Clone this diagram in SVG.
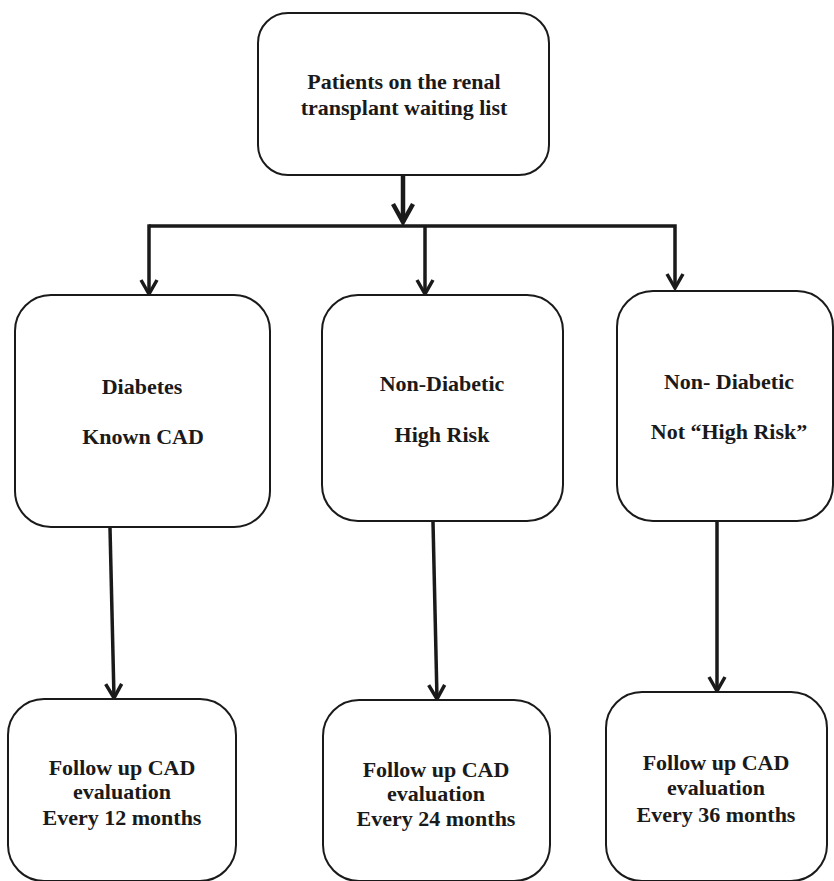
<svg xmlns="http://www.w3.org/2000/svg" width="834" height="881" viewBox="0 0 834 881">
<style>
.box{fill:#fff;stroke:#1a1a1a;stroke-width:2}
.t{font-family:"Liberation Serif","Times New Roman",serif;font-weight:bold;font-size:22px;fill:#1a1a1a;text-anchor:middle}
.c{fill:none;stroke:#1a1a1a;stroke-width:3.5;stroke-linecap:butt}
</style>
<defs>
<marker id="ah" markerUnits="userSpaceOnUse" viewBox="-20 -12 24 24" refX="0" refY="0" markerWidth="24" markerHeight="24" orient="auto">
<path d="M-14,-8 L0,0 L-14,8" fill="none" stroke="#1a1a1a" stroke-width="3.5" stroke-linejoin="miter"/>
</marker>
<marker id="ahb" markerUnits="userSpaceOnUse" viewBox="-24 -14 28 28" refX="0" refY="0" markerWidth="28" markerHeight="28" orient="auto">
<path d="M-18,-10 L0,0 L-18,10" fill="none" stroke="#1a1a1a" stroke-width="4.5" stroke-linejoin="miter"/>
</marker>
</defs>
<g id="connectors">
<line class="c" x1="403" y1="176" x2="403" y2="222" style="stroke-width:4.5" marker-end="url(#ahb)"/>
<polyline class="c" points="149,226 675,226 675,288" marker-end="url(#ah)"/>
<line class="c" x1="149" y1="224.3" x2="149" y2="294" marker-end="url(#ah)"/>
<line class="c" x1="425" y1="226" x2="425" y2="294" marker-end="url(#ah)"/>
<line class="c" x1="110" y1="528" x2="114" y2="698" marker-end="url(#ah)"/>
<line class="c" x1="433" y1="522" x2="437" y2="699" marker-end="url(#ah)"/>
<line class="c" x1="717" y1="522" x2="717" y2="691" marker-end="url(#ah)"/>
</g>
<g id="n-top">
<rect class="box" x="258" y="13" width="291" height="162" rx="30"/>
<text class="t" x="404" y="89">Patients on the renal</text>
<text class="t" x="404" y="115">transplant waiting list</text>
</g>
<g id="n-diabetes">
<rect class="box" x="15" y="295" width="255" height="232" rx="36"/>
<text class="t" x="142" y="394">Diabetes</text>
<text class="t" x="143" y="444">Known CAD</text>
</g>
<g id="n-highrisk">
<rect class="box" x="322" y="295" width="241" height="226" rx="36"/>
<text class="t" x="442" y="391">Non-Diabetic</text>
<text class="t" x="442" y="442">High Risk</text>
</g>
<g id="n-nothighrisk">
<rect class="box" x="617" y="291" width="216" height="230" rx="36"/>
<text class="t" x="729" y="389">Non- Diabetic</text>
<text class="t" x="729" y="439">Not “High Risk”</text>
</g>
<g id="n-fu12">
<rect class="box" x="8" y="699" width="228" height="182" rx="36"/>
<text class="t" x="122" y="775">Follow up CAD</text>
<text class="t" x="122" y="799">evaluation</text>
<text class="t" x="122" y="825">Every 12 months</text>
</g>
<g id="n-fu24">
<rect class="box" x="323" y="700" width="227" height="181" rx="36"/>
<text class="t" x="436" y="777">Follow up CAD</text>
<text class="t" x="436" y="801">evaluation</text>
<text class="t" x="436" y="826">Every 24 months</text>
</g>
<g id="n-fu36">
<rect class="box" x="606" y="692" width="221" height="189" rx="36"/>
<text class="t" x="716" y="770">Follow up CAD</text>
<text class="t" x="716" y="795">evaluation</text>
<text class="t" x="716" y="822">Every 36 months</text>
</g>
</svg>
